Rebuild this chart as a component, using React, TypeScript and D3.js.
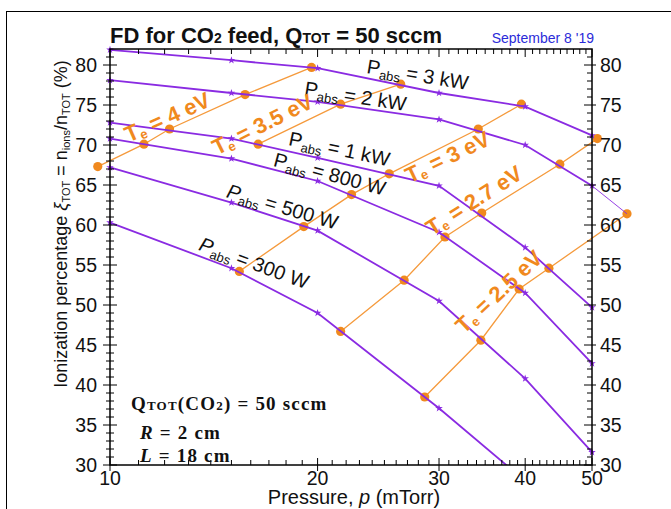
import React, { useEffect, useRef } from "react";
import * as d3 from "d3";

// pressure grid (mTorr) where each P_abs curve was computed
const pressures = [10, 15, 20, 30, 40, 50];

// ionization percentage for each absorbed power
const xi3kW = [81.9, 80.6, 79.6, 76.5, 74.8, 71.2];
const xi2kW = [78.1, 76.5, 75.4, 73.2, 70.0, 64.9];
const xi1kW = [72.8, 70.8, 68.4, 64.9, 57.2, 49.7];
const xi800W = [70.8, 68.3, 65.5, 59.1, 51.5, 42.7];
const xi500W = [67.2, 62.8, 59.3, 50.5, 40.8, 31.6];
const xi300W = [60.3, 54.6, 49.0, 37.1, 28.0];

// 2 kW curve extrapolated past 50 mTorr
const ext2kWP = [50, 56.2];
const ext2kWXi = [64.9, 61.4];

// constant electron temperature lines
const te4P = [9.6, 11.2, 12.2, 15.7, 19.6];
const te4Xi = [67.3, 70.1, 72.0, 76.3, 79.7];
const te35P = [16.4, 21.6, 26.4];
const te35Xi = [70.1, 75.1, 77.6];
const te3P = [15.4, 19.1, 22.4, 25.4, 34.2, 39.5];
const te3Xi = [54.2, 59.8, 63.8, 66.4, 72.0, 75.1];
const te27P = [21.6, 26.7, 30.6, 34.6, 44.9, 50.9];
const te27Xi = [46.7, 53.1, 58.5, 61.5, 67.6, 70.8];
const te25P = [28.6, 34.5, 39.2, 43.3, 56.2];
const te25Xi = [38.5, 45.6, 52.0, 54.6, 61.4];

const xTickLabels = [10, 20, 30, 40, 50];
const yTickLabels = [30, 35, 40, 45, 50, 55, 60, 65, 70, 75, 80];

const PURPLE = "#8a2be2";
const ORANGE_LINE = "#f59a3c";
const ORANGE = "#f0891e";

export default function App() {
  const ref = useRef<SVGSVGElement | null>(null);

  useEffect(() => {
    const W = 671, H = 509;
    const left = 110, right = 592, top = 49, bottom = 465;

    const x = d3.scaleLog().domain([10, 50]).range([left, right]);
    const y = d3.scaleLinear().domain([30, 82]).range([bottom, top]);

    const svg = d3.select(ref.current);
    svg.selectAll("*").remove();
    svg.attr("width", W).attr("height", H);

    svg.append("rect").attr("width", W).attr("height", H).attr("fill", "#fff");
    // outer frame
    svg.append("rect")
      .attr("x", 6.5).attr("y", 11.5)
      .attr("width", 800).attr("height", 800)
      .attr("fill", "none").attr("stroke", "#000").attr("stroke-width", 1);

    svg.append("clipPath").attr("id", "plotclip")
      .append("rect")
      .attr("x", 0).attr("y", 0).attr("width", W).attr("height", bottom);

    const line = d3.line<[number, number]>()
      .x((d) => x(d[0]))
      .y((d) => y(d[1]));

    const zip = (ps: number[], vs: number[]) =>
      vs.map((v, i) => [ps[i], v] as [number, number]);

    const powers = [xi3kW, xi2kW, xi1kW, xi800W, xi500W, xi300W];
    const teLines = [
      [te4P, te4Xi], [te35P, te35Xi], [te3P, te3Xi], [te27P, te27Xi], [te25P, te25Xi],
    ];

    // Te lines (under)
    const gTe = svg.append("g");
    teLines.forEach(([ps, vs]) => {
      gTe.append("path")
        .attr("d", line(zip(ps, vs)))
        .attr("fill", "none")
        .attr("stroke", ORANGE_LINE)
        .attr("stroke-width", 1.3);
    });

    // P_abs curves
    const gP = svg.append("g").attr("clip-path", "url(#plotclip)");
    powers.forEach((vs) => {
      gP.append("path")
        .attr("d", line(zip(pressures, vs)))
        .attr("fill", "none")
        .attr("stroke", PURPLE)
        .attr("stroke-width", 1.8);
    });
    gP.append("path")
      .attr("d", line(zip(ext2kWP, ext2kWXi)))
      .attr("fill", "none")
      .attr("stroke", PURPLE)
      .attr("stroke-width", 0.9);

    // orange dots
    teLines.forEach(([ps, vs]) => {
      gTe.selectAll(null)
        .data(zip(ps, vs))
        .enter()
        .append("circle")
        .attr("cx", (d) => x(d[0]))
        .attr("cy", (d) => y(d[1]))
        .attr("r", 4.6)
        .attr("fill", ORANGE);
    });

    // stars
    const star = d3.symbol().type(d3.symbolStar).size(18);
    powers.forEach((vs) => {
      gP.selectAll(null)
        .data(zip(pressures, vs))
        .enter()
        .append("path")
        .attr("d", star)
        .attr("transform", (d) => `translate(${x(d[0])},${y(d[1])})`)
        .attr("fill", PURPLE);
    });

    // frame
    svg.append("rect")
      .attr("x", left).attr("y", top)
      .attr("width", right - left).attr("height", bottom - top)
      .attr("fill", "none").attr("stroke", "#000").attr("stroke-width", 1.5);

    const axes = svg.append("g").attr("stroke", "#000").attr("stroke-width", 1);
    // x ticks
    const xMinor = d3.range(11, 50).filter((v) => v % 10 !== 0);
    xMinor.forEach((v) => {
      axes.append("line").attr("x1", x(v)).attr("x2", x(v)).attr("y1", bottom).attr("y2", bottom - 5);
      axes.append("line").attr("x1", x(v)).attr("x2", x(v)).attr("y1", top).attr("y2", top + 5);
    });
    xTickLabels.forEach((v) => {
      axes.append("line").attr("x1", x(v)).attr("x2", x(v)).attr("y1", bottom - 7).attr("y2", bottom + 6);
      axes.append("line").attr("x1", x(v)).attr("x2", x(v)).attr("y1", top + 8).attr("y2", top);
    });
    // y ticks
    d3.range(31, 82).filter((v) => v % 5 !== 0).forEach((v) => {
      axes.append("line").attr("x1", left - 4).attr("x2", left + 4).attr("y1", y(v)).attr("y2", y(v));
      axes.append("line").attr("x1", right).attr("x2", right - 5).attr("y1", y(v)).attr("y2", y(v));
    });
    yTickLabels.forEach((v) => {
      axes.append("line").attr("x1", left - 7).attr("x2", left + 7).attr("y1", y(v)).attr("y2", y(v));
      axes.append("line").attr("x1", right + 4).attr("x2", right - 8).attr("y1", y(v)).attr("y2", y(v));
    });

    const font = "'Liberation Sans', Arial, sans-serif";
    const tl = svg.append("g").attr("font-family", font).attr("font-size", 19.5).attr("fill", "#111");
    xTickLabels.forEach((v) => {
      tl.append("text").attr("x", x(v)).attr("y", 485).attr("text-anchor", "middle").text(v);
    });
    yTickLabels.forEach((v) => {
      tl.append("text").attr("x", 97).attr("y", y(v) + 7).attr("text-anchor", "end").text(v);
      tl.append("text").attr("x", 600).attr("y", y(v) + 7).attr("text-anchor", "start").text(v);
    });

    // axis titles
    const xt = svg.append("text")
      .attr("x", 354).attr("y", 504)
      .attr("text-anchor", "middle")
      .attr("font-family", font).attr("font-size", 20).attr("fill", "#111");
    xt.append("tspan").text("Pressure, ");
    xt.append("tspan").attr("font-style", "italic").text("p");
    xt.append("tspan").text(" (mTorr)");

    const yt = svg.append("text")
      .attr("transform", "translate(67,224) rotate(-90)")
      .attr("text-anchor", "middle")
      .attr("font-family", font).attr("font-size", 18).attr("fill", "#111");
    yt.append("tspan").text("Ionization percentage ");
    yt.append("tspan").attr("font-style", "italic").text("ξ");
    yt.append("tspan").attr("font-size", 11).attr("dy", 3).text("TOT");
    yt.append("tspan").attr("dy", -3).text(" = n");
    yt.append("tspan").attr("font-size", 11).attr("dy", 3).text("ions");
    yt.append("tspan").attr("dy", -3).text("/n");
    yt.append("tspan").attr("font-size", 11).attr("dy", 3).text("TOT");
    yt.append("tspan").attr("dy", -3).text(" (%)");

    // title
    const title = svg.append("text")
      .attr("x", 110).attr("y", 43)
      .attr("font-family", font).attr("font-size", 22).attr("font-weight", "bold").attr("fill", "#111");
    title.append("tspan").text("FD for CO");
    title.append("tspan").attr("font-size", 14).text("2");
    title.append("tspan").text(" feed, Q");
    title.append("tspan").attr("font-size", 14).text("TOT");
    title.append("tspan").text(" = 50 sccm");

    svg.append("text")
      .attr("x", 594).attr("y", 43).attr("text-anchor", "end")
      .attr("font-family", font).attr("font-size", 14).attr("fill", "#2b2bd9")
      .text("September 8 '19");

    // P_abs labels
    const pLabels: [string, number, number, number, boolean][] = [
      ["3 kW", 23.5, 79.0, 9.5, false],
      ["2 kW", 19.1, 76.25, 9, false],
      ["1 kW", 18.1, 70.0, 12, false],
      ["800 W", 17.2, 67.4, 15, false],
      ["500 W", 14.7, 63.5, 16.5, true],
      ["300 W", 13.4, 56.9, 20, true],
    ];
    pLabels.forEach(([txt, p, v, ang, it]) => {
      const t = svg.append("text")
        .attr("transform", `translate(${x(p)},${y(v)}) rotate(${ang})`)
        .attr("font-family", font).attr("font-size", 20).attr("fill", "#111");
      t.append("tspan").attr("font-style", it ? "italic" : "normal").text("P");
      t.append("tspan").attr("font-size", 13).attr("dy", 4).text("abs");
      t.append("tspan").attr("dy", -4).text(" = " + txt);
    });

    // Te labels
    const teLabels: [string, number, number, number][] = [
      ["4 eV", 10.65, 70.3, -24],
      ["3.5 eV", 14.3, 68.7, -26.5],
      ["3 eV", 27.2, 65.2, -25.5],
      ["2.7 eV", 29.3, 58.6, -32.5],
      ["2.5 eV", 32.6, 46.3, -43],
    ];
    teLabels.forEach(([txt, p, v, ang]) => {
      const t = svg.append("text")
        .attr("transform", `translate(${x(p)},${y(v)}) rotate(${ang})`)
        .attr("font-family", font).attr("font-size", 22).attr("font-weight", "bold")
        .attr("fill", ORANGE);
      t.append("tspan").text("T");
      t.append("tspan").attr("font-size", 13).attr("dy", 3).text("e");
      t.append("tspan").attr("dy", -3).text(" = " + txt);
    });

    // conditions box
    const serif = "'Liberation Serif', 'Times New Roman', serif";
    const cond = svg.append("g")
      .attr("font-family", serif).attr("font-size", 19).attr("font-weight", "bold")
      .attr("letter-spacing", 1.2).attr("fill", "#111");
    const q = cond.append("text").attr("x", 131).attr("y", 410);
    q.append("tspan").text("Q");
    q.append("tspan").attr("font-size", 13).text("TOT");
    q.append("tspan").text("(CO");
    q.append("tspan").attr("font-size", 13).text("2");
    q.append("tspan").text(") = 50 sccm");

    const r = cond.append("text").attr("x", 140).attr("y", 439);
    r.append("tspan").attr("font-style", "italic").text("R");
    r.append("tspan").text(" = 2 cm");

    const l = cond.append("text").attr("x", 140).attr("y", 462);
    l.append("tspan").attr("font-style", "italic").text("L");
    l.append("tspan").text(" = 18 cm");
  }, []);

  return (
    <svg
      ref={ref}
      style={{ position: "absolute", left: 0, top: 0, display: "block" }}
    />
  );
}
